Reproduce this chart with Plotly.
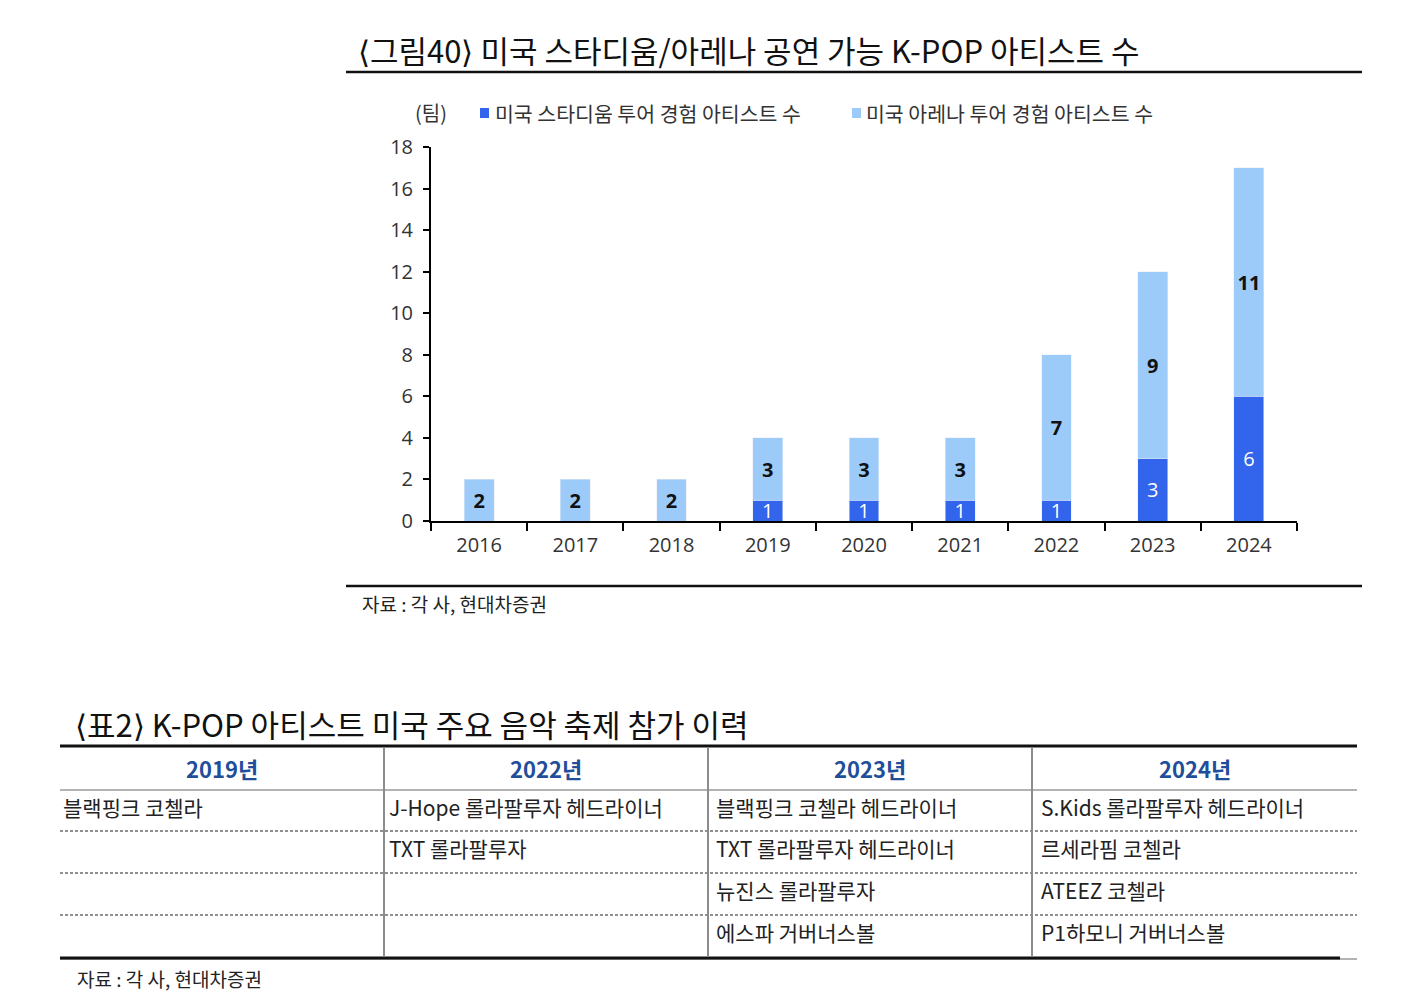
import plotly.graph_objects as go

# ---------------- data ----------------
years = ["2016", "2017", "2018", "2019", "2020", "2021", "2022", "2023", "2024"]
stadium = [0, 0, 0, 1, 1, 1, 1, 3, 6]
arena = [2, 2, 2, 3, 3, 3, 7, 9, 11]
y_ticks = [0, 2, 4, 6, 8, 10, 12, 14, 16, 18]

chart_title = "⟨그림40⟩ 미국 스타디움/아레나 공연 가능 K-POP 아티스트 수"
legend_stadium = "미국 스타디움 투어 경험 아티스트 수"
legend_arena = "미국 아레나 투어 경험 아티스트 수"
unit_label = "(팀)"
source_text = "자료 : 각 사, 현대차증권"

table_title = "⟨표2⟩ K-POP 아티스트 미국 주요 음악 축제 참가 이력"
table_headers = ["2019년", "2022년", "2023년", "2024년"]
col_2019 = ["블랙핑크 코첼라", "", "", ""]
col_2022 = ["J-Hope 롤라팔루자 헤드라이너", "TXT 롤라팔루자", "", ""]
col_2023 = ["블랙핑크 코첼라 헤드라이너", "TXT 롤라팔루자 헤드라이너", "뉴진스 롤라팔루자", "에스파 거버너스볼"]
col_2024 = ["S.Kids 롤라팔루자 헤드라이너", "르세라핌 코첼라", "ATEEZ 코첼라", "P1하모니 거버너스볼"]

# ---------------- styling ----------------
W, H = 1406, 1002
FONT = "Noto Sans CJK KR"
NUMFONT = "Open Sans, Noto Sans CJK KR"
DARK = "#3264EC"
LIGHT = "#9CCBF9"
TXT = "#333333"


def px(x):
    return x / W


def py(y):
    return 1 - y / H


fig = go.Figure()
fig.add_trace(go.Bar(
    x=years, y=stadium, name=legend_stadium, marker_color=DARK, width=0.31,
    text=[str(v) if v else "" for v in stadium], textposition="inside",
    insidetextanchor="middle", constraintext="none", textangle=0,
    textfont=dict(family=NUMFONT, size=20, color="white"), showlegend=False,
))
fig.add_trace(go.Bar(
    x=years, y=arena, name=legend_arena, marker_color=LIGHT, width=0.31,
    text=[str(v) if v else "" for v in arena], textposition="inside",
    insidetextanchor="middle", constraintext="none", textangle=0,
    textfont=dict(family=NUMFONT, size=20, color="#111111", weight="bold"), showlegend=False,
))

fig.update_layout(
    barmode="stack",
    width=W, height=H, autosize=False,
    margin=dict(l=0, r=0, t=0, b=0, pad=0, autoexpand=False),
    paper_bgcolor="white", plot_bgcolor="white",
    font=dict(family=FONT, color=TXT),
    xaxis=dict(
        domain=[px(431), px(1297)], type="category", automargin=False,
        showline=True, linecolor="black", linewidth=2,
        ticks="outside", tickson="boundaries", ticklen=8, tickwidth=2, tickcolor="black",
        ticklabelstandoff=5,
        tickfont=dict(family=NUMFONT, size=20, color=TXT), showgrid=False, zeroline=False,
    ),
    yaxis=dict(
        domain=[py(521), py(147)], range=[0, 18], tickvals=y_ticks, automargin=False,
        showline=True, linecolor="black", linewidth=2,
        ticks="outside", ticklen=6, tickwidth=2, tickcolor="black",
        ticklabelstandoff=6,
        tickfont=dict(family=NUMFONT, size=20, color=TXT), showgrid=False, zeroline=False,
    ),
)

shapes = []
ann = []

# chart title and rules
ann.append(dict(x=px(356), y=py(50), xref="paper", yref="paper", text=chart_title,
                showarrow=False, xanchor="left", yanchor="middle",
                font=dict(family=FONT, size=31, color="#111111")))
shapes.append(dict(type="line", xref="paper", yref="paper", x0=px(346), x1=px(1362),
                   y0=py(72), y1=py(72), line=dict(color="#111111", width=2.5)))
shapes.append(dict(type="line", xref="paper", yref="paper", x0=px(346), x1=px(1362),
                   y0=py(586), y1=py(586), line=dict(color="#111111", width=2.5)))
ann.append(dict(x=px(360), y=py(603), xref="paper", yref="paper", text=source_text,
                showarrow=False, xanchor="left", yanchor="middle",
                font=dict(family=FONT, size=19, color="#222222")))

# legend (manual)
ann.append(dict(x=px(413), y=py(113), xref="paper", yref="paper", text=unit_label,
                showarrow=False, xanchor="left", yanchor="middle",
                font=dict(family=FONT, size=20, color=TXT)))
shapes.append(dict(type="rect", xref="paper", yref="paper", x0=px(480), x1=px(489),
                   y0=py(118), y1=py(108), fillcolor=DARK, line=dict(width=0)))
ann.append(dict(x=px(493), y=py(113), xref="paper", yref="paper", text=legend_stadium,
                showarrow=False, xanchor="left", yanchor="middle",
                font=dict(family=FONT, size=20.5, color=TXT)))
shapes.append(dict(type="rect", xref="paper", yref="paper", x0=px(852), x1=px(861),
                   y0=py(118), y1=py(108), fillcolor=LIGHT, line=dict(width=0)))
ann.append(dict(x=px(864), y=py(113), xref="paper", yref="paper", text=legend_arena,
                showarrow=False, xanchor="left", yanchor="middle",
                font=dict(family=FONT, size=20.5, color=TXT)))

# ---------------- table ----------------
ann.append(dict(x=px(73), y=py(723), xref="paper", yref="paper", text=table_title,
                showarrow=False, xanchor="left", yanchor="middle",
                font=dict(family=FONT, size=31, color="#111111")))

col_edges = [60, 384, 708, 1032, 1357]
text_x = [61, 387, 714, 1039]
row_edges = [746, 790, 831, 873, 915, 957]
columns = [col_2019, col_2022, col_2023, col_2024]

shapes.append(dict(type="line", xref="paper", yref="paper", x0=px(60), x1=px(1357),
                   y0=py(746), y1=py(746), line=dict(color="#111111", width=3)))
shapes.append(dict(type="line", xref="paper", yref="paper", x0=px(60), x1=px(1357),
                   y0=py(790), y1=py(790), line=dict(color="#9a9a9a", width=1.5)))
for ry in row_edges[2:-1]:
    shapes.append(dict(type="line", xref="paper", yref="paper", x0=px(60), x1=px(1357),
                       y0=py(ry), y1=py(ry), line=dict(color="#222222", width=1.2, dash="3px,2px")))
shapes.append(dict(type="line", xref="paper", yref="paper", x0=px(60), x1=px(1357),
                   y0=py(959), y1=py(959), line=dict(color="#9a9a9a", width=1.5)))
shapes.append(dict(type="line", xref="paper", yref="paper", x0=px(60), x1=px(1340),
                   y0=py(958), y1=py(958), line=dict(color="#111111", width=3)))
for cx in col_edges[1:-1]:
    shapes.append(dict(type="line", xref="paper", yref="paper", x0=px(cx), x1=px(cx),
                       y0=py(747), y1=py(957), line=dict(color="#8c8c8c", width=2)))

for i, h in enumerate(table_headers):
    cxm = (col_edges[i] + col_edges[i + 1]) / 2
    ann.append(dict(x=px(cxm), y=py(768), xref="paper", yref="paper", text=h,
                    showarrow=False, xanchor="center", yanchor="middle",
                    font=dict(family=FONT, size=22, color="#1F4E9A", weight="bold")))

for i, col in enumerate(columns):
    for j, cell in enumerate(col):
        if not cell:
            continue
        cy = (row_edges[j + 1] + row_edges[j + 2]) / 2 - 4
        ann.append(dict(x=px(text_x[i]), y=py(cy), xref="paper", yref="paper", text=cell,
                        showarrow=False, xanchor="left", yanchor="middle",
                        font=dict(family=FONT, size=21, color="#222222")))

ann.append(dict(x=px(75), y=py(978), xref="paper", yref="paper", text=source_text,
                showarrow=False, xanchor="left", yanchor="middle",
                font=dict(family=FONT, size=19, color="#222222")))

fig.update_layout(shapes=shapes, annotations=ann)
fig.write_html("out.html")
